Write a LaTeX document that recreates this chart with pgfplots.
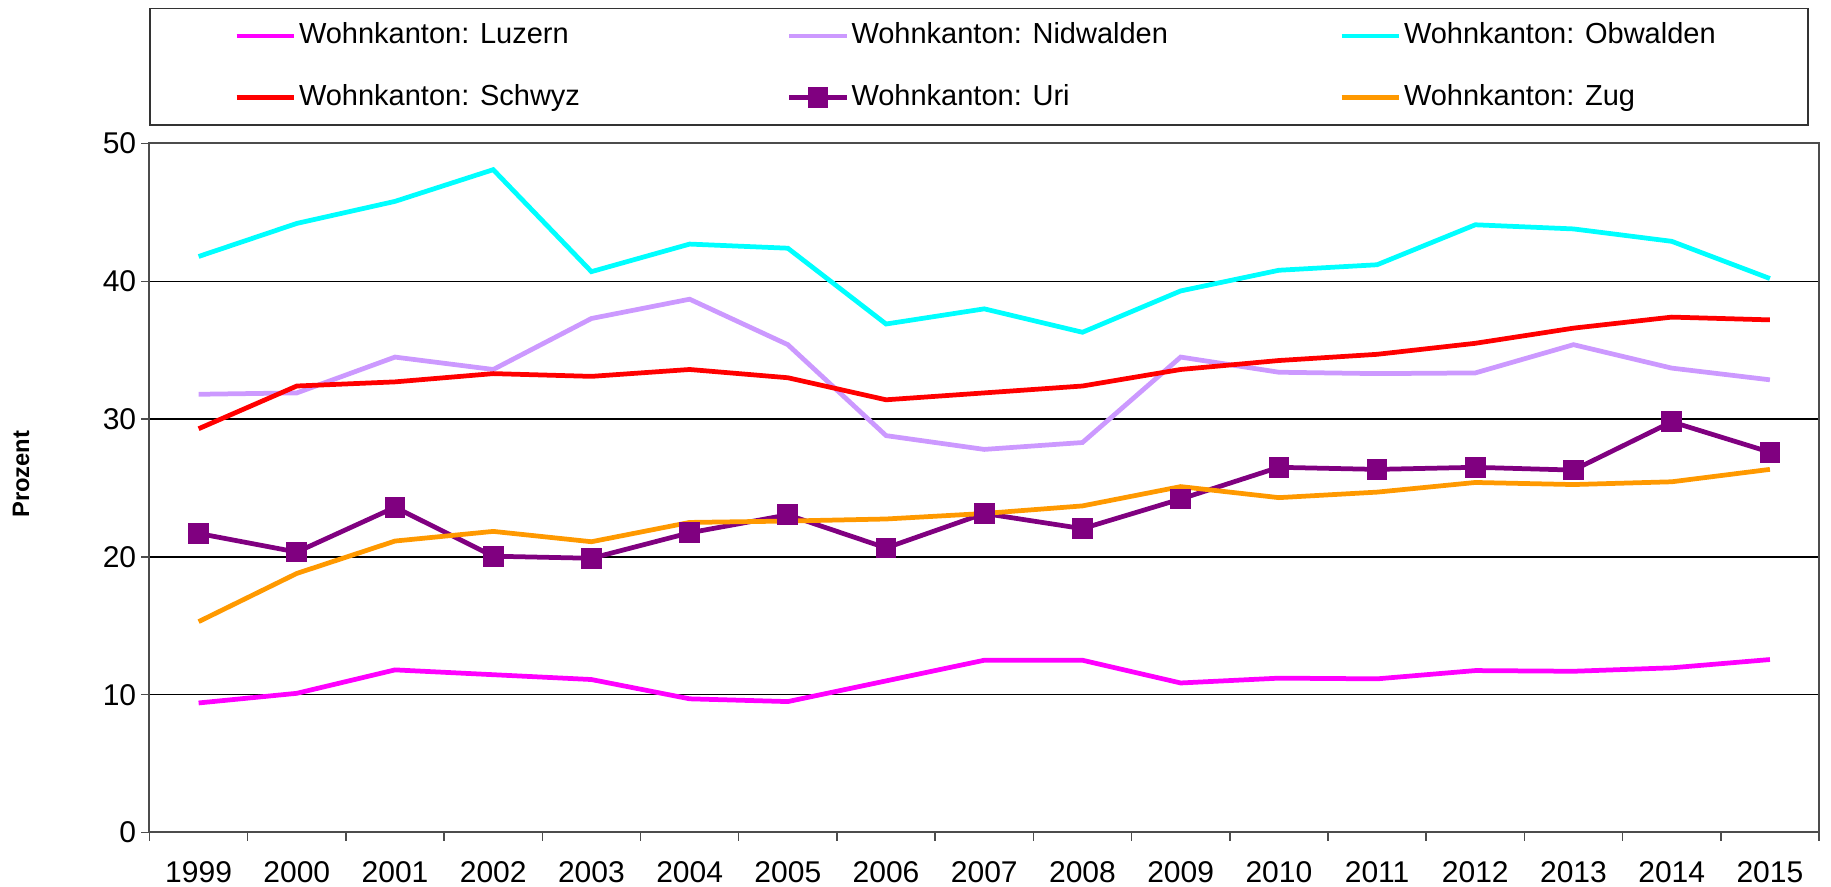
\documentclass[border=0pt]{standalone}
\usepackage{fontspec}
\setmainfont{Liberation Sans}
\usepackage{pgfplots}
\pgfplotsset{compat=1.18}
\definecolor{cLuz}{HTML}{FF00FF}
\definecolor{cNid}{HTML}{CC99FF}
\definecolor{cObw}{HTML}{00FFFF}
\definecolor{cSch}{HTML}{FF0000}
\definecolor{cUri}{HTML}{800080}
\definecolor{cZug}{HTML}{FF9900}
\begin{document}
\begin{tikzpicture}
\begin{axis}[
  name=ax,
  scale only axis,
  width=667.8pt, height=275.6pt,
  xmin=-0.5, xmax=16.5,
  ymin=0, ymax=50,
  ytick={0,10,20,30,40,50},
  xtick={-0.5,0.5,...,16.5},
  xticklabels={},
  extra x ticks={0,1,...,16},
  extra x tick labels={1999,2000,2001,2002,2003,2004,2005,2006,2007,2008,2009,2010,2011,2012,2013,2014,2015},
  extra x tick style={major tick length=0pt, grid=none},
  tick pos=left,
  tick align=outside,
  major tick length=3.3pt,
  tick style={black!70, line width=0.6pt},
  ymajorgrids,
  y grid style={black, line width=0.5pt},
  axis line style={black!70, line width=0.8pt},
  /pgf/number format/assume math mode=true,
  tick label style={font=\fontsize{12}{14}\selectfont},
  x tick label style={yshift=-7.9pt},
  y tick label style={xshift=1.5pt},
  ylabel={\bfseries Prozent},
  ylabel style={font=\fontsize{9.5}{11}\selectfont, at={(axis description cs:-0.077,0.52)}, anchor=center},
  clip=false,
  legend columns=3,
  legend style={
    at={(axis description cs:0,1)}, anchor=south west, yshift=7.0pt,
    draw=black!80, line width=0.6pt,
    inner xsep=33.6pt, inner ysep=3pt,
    font=\fontsize{11.6}{13}\selectfont,
    nodes={inner xsep=1pt, inner ysep=2pt, text height=9pt, text depth=3pt},
    column sep=0pt, row sep=8.7pt,
  },
  legend cell align=left,
  legend image code/.code={\draw[mark repeat=2,mark phase=2,#1] plot coordinates {(0pt,0pt) (11.5pt,0pt) (23pt,0pt)};},
  every axis plot/.append style={line width=1.9pt},
]
% Luzern
\addplot[cLuz, no markers] coordinates {
(0,9.4) (1,10.1) (2,11.8) (3,11.45) (4,11.1) (5,9.7) (6,9.5) (7,11.0) (8,12.5) (9,12.5) (10,10.85) (11,11.2) (12,11.15) (13,11.75) (14,11.7) (15,11.95) (16,12.55)};
\addlegendentry{\makebox[194.1pt][l]{Wohnkanton: Luzern}}
% Nidwalden
\addplot[cNid, no markers] coordinates {
(0,31.8) (1,31.9) (2,34.5) (3,33.6) (4,37.3) (5,38.7) (6,35.4) (7,28.8) (8,27.8) (9,28.3) (10,34.5) (11,33.4) (12,33.3) (13,33.35) (14,35.4) (15,33.7) (16,32.85)};
\addlegendentry{\makebox[194.1pt][l]{Wohnkanton: Nidwalden}}
% Obwalden
\addplot[cObw, no markers] coordinates {
(0,41.8) (1,44.2) (2,45.8) (3,48.1) (4,40.7) (5,42.7) (6,42.4) (7,36.9) (8,38.0) (9,36.3) (10,39.3) (11,40.8) (12,41.2) (13,44.1) (14,43.8) (15,42.9) (16,40.2)};
\addlegendentry{\makebox[127pt][l]{Wohnkanton: Obwalden}}
% Schwyz
\addplot[cSch, no markers] coordinates {
(0,29.3) (1,32.4) (2,32.7) (3,33.3) (4,33.1) (5,33.6) (6,33.0) (7,31.4) (8,31.9) (9,32.4) (10,33.6) (11,34.25) (12,34.7) (13,35.5) (14,36.6) (15,37.4) (16,37.2)};
\addlegendentry{\makebox[194.1pt][l]{Wohnkanton: Schwyz}}
% Uri
\addplot[cUri, mark=square*, mark size=3.2pt, mark options={solid, fill=cUri}] coordinates {
(0,21.7) (1,20.35) (2,23.6) (3,20.05) (4,19.9) (5,21.75) (6,23.05) (7,20.65) (8,23.15) (9,22.05) (10,24.2) (11,26.5) (12,26.35) (13,26.5) (14,26.3) (15,29.8) (16,27.6)};
\addlegendentry{\makebox[194.1pt][l]{Wohnkanton: Uri}}
% Zug
\addplot[cZug, no markers] coordinates {
(0,15.3) (1,18.8) (2,21.15) (3,21.85) (4,21.1) (5,22.5) (6,22.6) (7,22.75) (8,23.15) (9,23.7) (10,25.1) (11,24.3) (12,24.7) (13,25.4) (14,25.25) (15,25.45) (16,26.35)};
\addlegendentry{\makebox[127pt][l]{Wohnkanton: Zug}}
\end{axis}
\pgfresetboundingbox
\path[use as bounding box] ([shift={(-59.8pt,-21.8pt)}]ax.south west) rectangle ([shift={(4.8pt,57.4pt)}]ax.north east);
\end{tikzpicture}
\end{document}
